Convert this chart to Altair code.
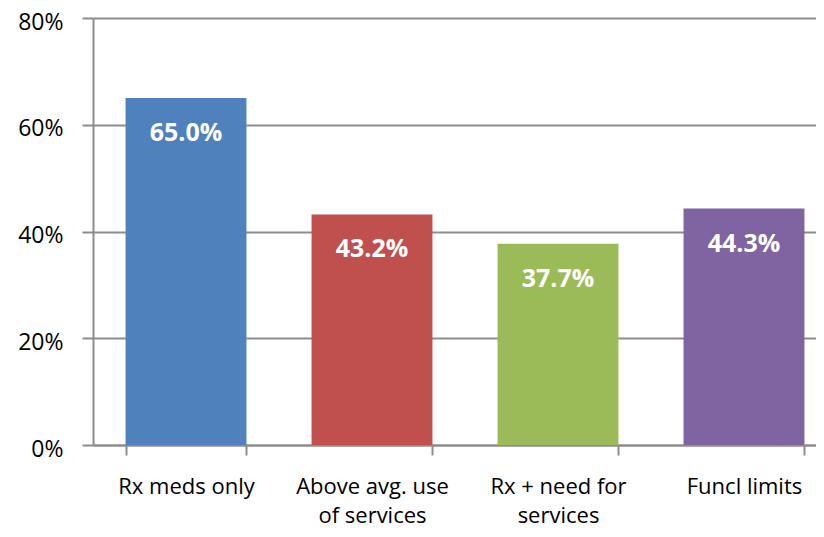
import altair as alt
import pandas as pd

categories = ["Rx meds only", "Above avg. use of services", "Rx +  need for services", "Funcl limits"]
values = [0.650, 0.432, 0.377, 0.443]
colors = ["#4F81BD", "#C0504D", "#9BBB59", "#8064A2"]
label_lines = {
    "Rx meds only": ["Rx meds only"],
    "Above avg. use of services": ["Above avg. use", "of services"],
    "Rx +  need for services": ["Rx +  need for", "services"],
    "Funcl limits": ["Funcl limits"],
}

df = pd.DataFrame({"cat": categories, "val": values})

expr = "{" + ", ".join(f"'{k}': {v}" for k, v in label_lines.items()) + "}[datum.label]"

FONT = "Open Sans"
GRID = "#8C8C8C"

x = alt.X(
    "cat:N",
    sort=categories,
    scale=alt.Scale(paddingInner=0.35, paddingOuter=0.175, range=[0, 744]),
    axis=alt.Axis(
        title=None,
        labelAngle=0,
        labelExpr=expr,
        labelFont=FONT,
        labelFontSize=22,
        labelColor="#000000",
        labelLineHeight=29,
        labelPadding=21,
        tickBand="extent",
        tickSize=10,
        tickColor=GRID,
        tickWidth=2,
        domainColor=GRID,
        domainWidth=2,
        grid=False,
    ),
)

y = alt.Y(
    "val:Q",
    scale=alt.Scale(domain=[0, 0.8]),
    axis=alt.Axis(
        title=None,
        format=".0%",
        values=[0, 0.2, 0.4, 0.6, 0.8],
        labelFont=FONT,
        labelFontSize=23,
        labelColor="#000000",
        labelPadding=19,
        labelOffset=4,
        tickSize=11,
        tickColor=GRID,
        tickWidth=2,
        domainColor=GRID,
        domainWidth=2,
        gridColor=GRID,
        gridWidth=2,
    ),
)

bars = alt.Chart(df).mark_bar().encode(
    x=x,
    y=y,
    color=alt.Color("cat:N", scale=alt.Scale(domain=categories, range=colors), legend=None),
)

text = alt.Chart(df).mark_text(
    color="white", font=FONT, fontSize=25, fontWeight="bold", baseline="middle", dy=35
).encode(
    x=alt.X("cat:N", sort=categories),
    y="val:Q",
    text=alt.Text("val:Q", format=".1%"),
)

chart = (bars + text).properties(
    width=723,
    height=427,
    autosize="none",
    padding={"left": 85, "top": 10, "right": 0, "bottom": 84},
).configure_view(stroke=None)

chart.save("out.html", embed_options={"renderer": "svg", "actions": False})
